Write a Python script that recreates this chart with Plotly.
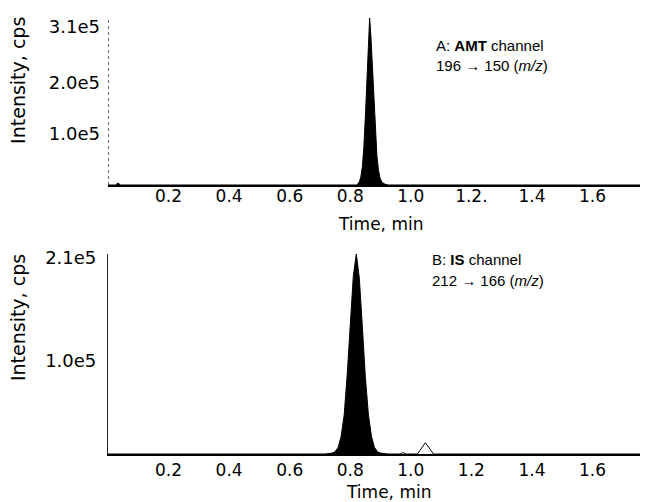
import plotly.graph_objects as go

# AMT channel (196 -> 150)
amt_time = [0.0, 0.025, 0.033, 0.041, 0.82, 0.825, 0.83, 0.835, 0.84, 0.845, 0.85,
            0.855, 0.86, 0.864, 0.868, 0.873, 0.878, 0.883, 0.888, 0.893, 0.898,
            0.905, 0.915, 0.925, 1.78]
amt_intensity = [0, 0, 4e3, 0, 0, 2e3, 6e3, 1.6e4, 3.6e4, 7.5e4, 1.35e5,
                 2.05e5, 2.75e5, 3.28e5, 2.95e5, 2.3e5, 1.6e5, 1.0e5, 5.8e4, 3.0e4, 1.4e4,
                 5e3, 1.5e3, 0, 0]

# IS channel (212 -> 166), main peak (filled)
is_peak_time = [0.72, 0.74, 0.75, 0.76, 0.77, 0.78, 0.79, 0.80, 0.81, 0.82,
                0.83, 0.84, 0.85, 0.86, 0.87, 0.88, 0.89, 0.90, 0.92]
is_peak_intensity = [0, 1e3, 2.5e3, 7e3, 1.9e4, 4.2e4, 8.5e4, 1.4e5, 1.9e5, 2.14e5,
                     1.88e5, 1.36e5, 8.2e4, 4.2e4, 1.9e4, 7e3, 2.5e3, 1e3, 0]

# IS channel, rest of the trace (baseline and small late peak)
is_rest_time = [0.0, 0.72, 0.92, 0.965, 0.975, 0.985, 1.022, 1.048, 1.075, 1.78]
is_rest_intensity = [0, 0, 0, 0, 1.5e3, 0, 0, 1.2e4, 0, 0]

x_tickvals = [0.2, 0.4, 0.6, 0.8, 1.0, 1.2, 1.4, 1.6]
x_ticktext_a = ["0.2", "0.4", "0.6", "0.8", "1.0", "1.2.", "1.4", "1.6"]
x_ticktext_b = ["0.2", "0.4", "0.6", "0.8", "1.0", "1.2", "1.4", "1.6"]
y_tickvals_a = [1e5, 2e5, 3.1e5]
y_ticktext_a = ["1.0e5", "2.0e5", "3.1e5"]
y_tickvals_b = [1e5, 2.1e5]
y_ticktext_b = ["1.0e5", "2.1e5"]

TICK_FONT = dict(family="DejaVu Sans", size=17, color="black")
YTICK_FONT = dict(family="DejaVu Sans", size=18, color="black")
TITLE_FONT = dict(family="DejaVu Sans", size=17, color="black")
YTITLE_FONT = dict(family="DejaVu Sans", size=19, color="black")
NOTE_FONT = dict(family="Liberation Sans, Arial", size=15, color="black")

fig = go.Figure()

fig.add_trace(go.Scatter(
    x=amt_time, y=amt_intensity, mode="lines",
    line=dict(color="black", width=1),
    fill="tozeroy", fillcolor="black",
    xaxis="x", yaxis="y", hoverinfo="skip",
))
fig.add_trace(go.Scatter(
    x=is_rest_time, y=is_rest_intensity, mode="lines",
    line=dict(color="black", width=1),
    xaxis="x2", yaxis="y2", hoverinfo="skip",
))
fig.add_trace(go.Scatter(
    x=is_peak_time, y=is_peak_intensity, mode="lines",
    line=dict(color="black", width=1),
    fill="tozeroy", fillcolor="black",
    xaxis="x2", yaxis="y2", hoverinfo="skip",
))

x_common = dict(
    range=[0, 1.78], showgrid=False, zeroline=False, ticks="",
    showline=True, linecolor="black", linewidth=1.5,
    tickvals=x_tickvals, tickfont=TICK_FONT, automargin=False,
)
y_common = dict(
    showgrid=False, zeroline=False, ticks="", tickfont=YTICK_FONT,
    ticklabelstandoff=7, automargin=False,
)

# the page puts the figure 8px in from the top-left corner, so margins are shifted by that
fig.update_layout(
    width=648, height=502,
    margin=dict(l=100, r=9, t=10, b=56),
    plot_bgcolor="white", paper_bgcolor="white",
    showlegend=False,
    xaxis=dict(**x_common, anchor="y", ticktext=x_ticktext_a, ticklabelstandoff=-5),
    yaxis=dict(**y_common, domain=[0.617, 1], range=[0, 3.28e5],
               tickvals=y_tickvals_a, ticktext=y_ticktext_a, showline=False),
    xaxis2=dict(**x_common, anchor="y2", ticktext=x_ticktext_b),
    yaxis2=dict(**y_common, domain=[0, 0.4587], range=[0, 2.14e5],
                tickvals=y_tickvals_b, ticktext=y_ticktext_b,
                showline=True, linecolor="#222", linewidth=1.2),
)

# dotted left axis of the upper panel
fig.add_shape(type="line", xref="x", yref="y domain", x0=0, x1=0, y0=0, y1=1,
              line=dict(color="#333", width=1.5, dash="dot"))

notes = [
    dict(x=-0.167, y=0.858, text="Intensity, cps", textangle=-90, font=YTITLE_FONT, xanchor="center"),
    dict(x=-0.167, y=0.314, text="Intensity, cps", textangle=-90, font=YTITLE_FONT, xanchor="center"),
    dict(x=0.505, y=0.527, text="Time, min", font=TITLE_FONT, xanchor="center"),
    dict(x=0.52, y=-0.087, text="Time, min", font=TITLE_FONT, xanchor="center"),
    dict(x=0.605, y=0.938, text="A: <b>AMT</b> channel", font=NOTE_FONT, xanchor="left"),
    dict(x=0.605, y=0.892, text="196 \u2192 150 (<i>m/z</i>)", font=NOTE_FONT, xanchor="left"),
    dict(x=0.598, y=0.445, text="B: <b>IS</b> channel", font=NOTE_FONT, xanchor="left"),
    dict(x=0.598, y=0.399, text="212 \u2192 166 (<i>m/z</i>)", font=NOTE_FONT, xanchor="left"),
]
for n in notes:
    fig.add_annotation(xref="paper", yref="paper", showarrow=False, yanchor="middle", **n)

fig.write_html("out.html")
